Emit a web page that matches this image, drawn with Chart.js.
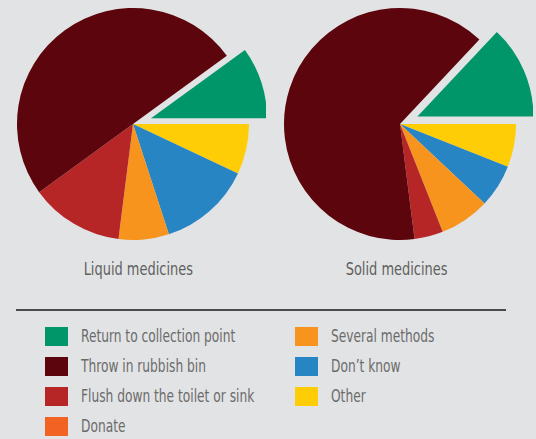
<!DOCTYPE html>
<html>
<head>
<meta charset="utf-8">
<script src="https://cdn.jsdelivr.net/npm/chart.js@4"></script>
<style>
  html, body { margin: 0; padding: 0; }
  body {
    width: 536px; height: 439px; overflow: hidden; position: relative;
    background: #e2e3e4;
    font-family: "DejaVu Sans Condensed", "Roboto", sans-serif;
    color: #6b6b6b;
  }
  .pie { position: absolute; top: 0; width: 266px; height: 248px; }
  .pie canvas { display: block; }
  .cap { position: absolute; top: 258px; width: 266px; text-align: center; font-size: 18px; color: #5f5f5f; }
  .cap span { display: inline-block; transform: scaleX(0.8); }
  .rule { position: absolute; left: 16px; top: 309px; width: 490px; height: 2px; background: #4a4a4a; }
  .legend { position: absolute; font-size: 18px; }
  .item { position: absolute; white-space: nowrap; height: 20px; line-height: 20px; }
  .item i { position: absolute; left: 0; top: 0; width: 23px; height: 19px; }
  .item span { position: absolute; left: 36px; top: -1px; transform: scaleX(0.755); transform-origin: 0 50%; }
</style>
</head>
<body>
<div class="pie" style="left:0"><canvas id="liquidChart"></canvas></div>
<div class="pie" style="left:267px"><canvas id="solidChart"></canvas></div>
<div class="cap" style="left:5px"><span>Liquid medicines</span></div>
<div class="cap" style="left:264px"><span>Solid medicines</span></div>
<div class="rule"></div>
<div class="legend" id="legend"></div>

<script>
// categories in legend order
var methods = [
  "Return to collection point",
  "Throw in rubbish bin",
  "Flush down the toilet or sink",
  "Donate",
  "Several methods",
  "Don\u2019t know",
  "Other"
];
var colors = ["#00966a", "#5c050c", "#b72627", "#f26223", "#f7941e", "#2885c3", "#ffcd05"];

// shares in percent, same order as methods
var liquidValues = [10, 50, 13, 0, 7, 13, 7];
var solidValues = [13, 64, 4, 0, 7, 6, 6];

// the first slice is pulled out of the pie
var explodeIndex = 0;
var explodeDist = 19;

// Chart.js draws clockwise, the picture goes anticlockwise from 3 o'clock
function rev(a) { return a.slice().reverse(); }

var explodePlugin = {
  id: "explode",
  beforeDatasetDraw: function (chart, args) {
    var arcs = args.meta.data;
    var k = arcs.length - 1 - explodeIndex;
    var ref = arcs[(k + 1) % arcs.length];
    var arc = arcs[k];
    var mid = (arc.startAngle + arc.endAngle) / 2;
    arc.x = ref.x + Math.cos(mid) * explodeDist;
    arc.y = ref.y + Math.sin(mid) * explodeDist;
  }
};

function makePie(id, values) {
  var ctx = document.getElementById(id).getContext("2d");
  new Chart(ctx, {
    type: "pie",
    data: {
      labels: rev(methods),
      datasets: [{
        data: rev(values),
        backgroundColor: rev(colors),
        borderWidth: 0
      }]
    },
    options: {
      responsive: true,
      maintainAspectRatio: false,
      animation: false,
      rotation: 90,
      radius: 116,
      plugins: {
        legend: { display: false },
        tooltip: { enabled: false }
      }
    },
    plugins: [explodePlugin]
  });
}

makePie("liquidChart", liquidValues);
makePie("solidChart", solidValues);

// legend: two columns, four rows then three
var legend = document.getElementById("legend");
methods.forEach(function (name, i) {
  var col = i < 4 ? 0 : 1;
  var row = i < 4 ? i : i - 4;
  var d = document.createElement("div");
  d.className = "item";
  d.style.left = (col ? 295 : 45) + "px";
  d.style.top = (327 + row * 30) + "px";
  d.innerHTML = '<i style="background:' + colors[i] + '"></i><span>' + name + "</span>";
  legend.appendChild(d);
});
</script>
</body>
</html>
